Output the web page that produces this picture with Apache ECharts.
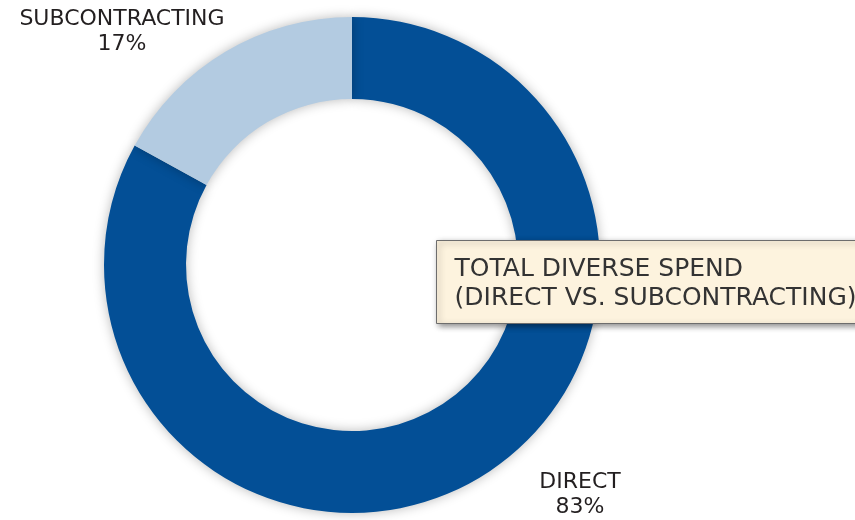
<!DOCTYPE html>
<html><head><meta charset="utf-8">
<script src="https://cdn.jsdelivr.net/npm/echarts@6/dist/echarts.min.js"></script>
<style>html,body{margin:0;padding:0;background:#fff}#c{width:855px;height:520px}</style>
</head><body><div id="c"></div>
<script>
const categories = ['DIRECT', 'SUBCONTRACTING'];
const values = [83, 17];
const colors = ['#034f96', '#b3cbe1'];
const titleLines = ['TOTAL DIVERSE SPEND', '(DIRECT VS. SUBCONTRACTING)'];

const labelPos = [{x: 580, y: 495}, {x: 122, y: 32}];
const chart = echarts.init(document.getElementById('c'), null, {renderer: 'canvas'});
chart.setOption({
  animation: false,
  series: [{
    type: 'pie',
    center: [352, 265],
    radius: [166, 248],
    startAngle: 90,
    clockwise: true,
    silent: true,
    z: 1,
    itemStyle: {shadowBlur: 12, shadowColor: 'rgba(0,0,0,0.28)'},
    label: {
      show: true,
      formatter: p => p.name + '\n' + p.value + '%',
      fontFamily: 'DejaVu Sans',
      fontSize: 22,
      lineHeight: 25,
      color: '#231f20',
      align: 'center',
      overflow: 'none',
      width: 300
    },
    labelLine: {show: false},
    labelLayout: p => ({x: labelPos[p.dataIndex].x, y: labelPos[p.dataIndex].y, align: 'center', verticalAlign: 'middle'}),
    data: categories.map((c, i) => ({name: c, value: values[i], itemStyle: {color: colors[i]}}))
  }],
  graphic: [{
    type: 'group',
    left: 436, top: 240,
    z: 100,
    children: [{
      type: 'rect',
      z: 100,
      shape: {x: 0, y: 0, width: 440, height: 83},
      style: {fill: '#fdf3de', stroke: '#6d6d6d', lineWidth: 1, shadowBlur: 6, shadowColor: 'rgba(0,0,0,0.45)', shadowOffsetX: 2, shadowOffsetY: 2}
    }, {
      type: 'text',
      z: 101,
      x: 18, y: 14,
      style: {text: titleLines.join('\n'), fontFamily: 'DejaVu Sans', fontSize: 25, lineHeight: 29, fill: '#333333'}
    }]
  }]
});
</script></body></html>
